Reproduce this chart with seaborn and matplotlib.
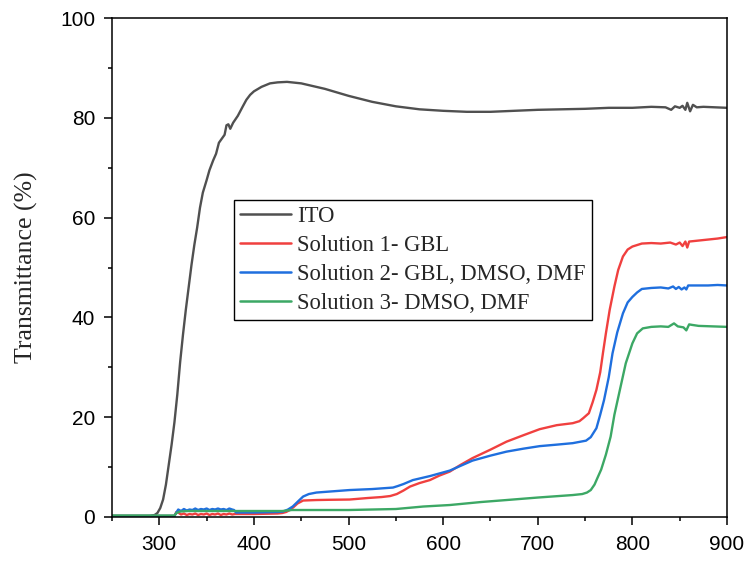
import numpy as np
import pandas as pd
import matplotlib
matplotlib.use("Agg")
import matplotlib.pyplot as plt
import seaborn as sns
from matplotlib.ticker import MultipleLocator

# Transmittance spectra: (wavelength nm, transmittance %)
ito_pts = [(250, 0.2), (290, 0.2), (295, 0.4), (298, 0.8), (301, 1.8), (304, 3.5),
           (307, 6.5), (310, 10.5), (313, 14.5), (316, 19.0), (319, 24.5), (322, 31.0),
           (325, 36.5), (328, 41.5), (331, 46.0), (334, 50.5), (337, 54.5), (340, 58.0),
           (343, 62.0), (346, 65.0), (350, 67.5), (353, 69.5), (357, 71.5), (360, 72.8),
           (363, 75.0), (366, 75.8), (369, 76.6), (371, 78.5), (373, 78.7), (375, 77.8),
           (378, 79.0), (383, 80.4), (388, 82.2), (392, 83.6), (396, 84.6), (400, 85.3),
           (408, 86.2), (417, 86.9), (425, 87.1), (435, 87.2), (450, 86.9), (475, 85.8),
           (500, 84.4), (525, 83.2), (550, 82.3), (575, 81.7), (600, 81.4), (625, 81.2),
           (650, 81.2), (675, 81.4), (700, 81.6), (725, 81.7), (750, 81.8), (775, 82.0),
           (800, 82.0), (820, 82.2), (835, 82.1), (841, 81.6), (845, 82.3), (850, 82.0),
           (853, 82.4), (856, 81.6), (858, 83.0), (861, 81.3), (864, 82.6), (868, 82.1),
           (875, 82.2), (900, 82.0)]

sol1_pts = [(250, 0.2), (316, 0.2), (318, 1.0), (320, 0.9), (323, 0.5), (326, 0.7),
            (329, 0.4), (332, 0.6), (335, 0.5), (338, 0.7), (341, 0.4), (344, 0.6),
            (347, 0.5), (350, 0.7), (353, 0.4), (356, 0.6), (359, 0.5), (362, 0.7),
            (365, 0.4), (368, 0.6), (371, 0.5), (374, 0.7), (377, 0.5), (380, 0.6),
            (400, 0.6), (425, 0.7), (430, 0.8), (434, 1.0), (438, 1.4), (442, 2.0),
            (446, 2.7), (452, 3.3), (466, 3.4), (480, 3.45), (501, 3.5), (520, 3.8),
            (535, 4.0), (544, 4.2), (551, 4.6), (558, 5.3), (565, 6.1), (575, 6.8),
            (586, 7.4), (596, 8.3), (607, 9.1), (618, 10.4), (631, 11.8), (650, 13.5),
            (667, 15.1), (685, 16.4), (702, 17.6), (720, 18.4), (737, 18.8), (744, 19.2),
            (748, 19.8), (754, 20.8), (758, 23.0), (762, 25.5), (766, 29.0), (769, 33.0),
            (772, 36.8), (776, 41.5), (781, 46.2), (785, 49.5), (790, 52.2), (795, 53.6),
            (800, 54.2), (810, 54.8), (820, 54.9), (830, 54.8), (840, 55.0), (846, 54.6),
            (850, 55.0), (853, 54.3), (856, 55.2), (858, 54.0), (860, 55.2), (870, 55.4),
            (880, 55.6), (890, 55.8), (900, 56.1)]

sol2_pts = [(250, 0.2), (316, 0.2), (318, 0.9), (320, 1.5), (323, 1.2), (326, 1.6),
            (329, 1.3), (332, 1.5), (335, 1.4), (338, 1.7), (341, 1.4), (344, 1.6),
            (347, 1.5), (350, 1.7), (353, 1.4), (356, 1.6), (359, 1.5), (362, 1.7),
            (365, 1.5), (368, 1.6), (371, 1.4), (374, 1.7), (377, 1.5), (379, 1.4),
            (381, 0.9), (400, 0.9), (425, 1.0), (431, 1.1), (436, 1.5), (441, 2.1),
            (447, 3.2), (452, 4.1), (458, 4.6), (466, 4.9), (480, 5.1), (501, 5.4),
            (525, 5.6), (547, 5.9), (552, 6.2), (558, 6.6), (568, 7.4), (586, 8.2),
            (607, 9.3), (631, 11.3), (650, 12.3), (667, 13.1), (685, 13.7), (702, 14.2),
            (720, 14.5), (737, 14.8), (751, 15.3), (756, 16.0), (762, 17.8), (766, 20.5),
            (770, 23.4), (775, 28.0), (779, 32.8), (784, 37.0), (790, 40.8), (795, 43.0),
            (800, 44.1), (805, 45.0), (810, 45.7), (820, 45.9), (830, 46.0), (838, 45.8),
            (843, 46.2), (846, 45.7), (849, 46.1), (852, 45.6), (855, 46.0), (857, 45.6),
            (859, 46.4), (862, 46.4), (870, 46.4), (880, 46.4), (890, 46.5), (900, 46.4)]

sol3_pts = [(250, 0.3), (316, 0.3), (318, 0.8), (322, 1.1), (330, 1.2), (380, 1.2),
            (430, 1.2), (440, 1.4), (500, 1.4), (550, 1.6), (579, 2.1), (607, 2.4),
            (640, 3.0), (667, 3.4), (700, 3.9), (737, 4.4), (747, 4.6), (752, 4.9),
            (756, 5.4), (760, 6.5), (763, 7.8), (767, 9.5), (772, 12.5), (777, 16.1),
            (781, 20.5), (786, 24.8), (793, 30.8), (800, 34.8), (805, 36.8), (811, 37.8),
            (820, 38.1), (830, 38.2), (838, 38.1), (844, 38.8), (848, 38.2), (854, 38.0),
            (857, 37.4), (860, 38.6), (863, 38.5), (870, 38.3), (900, 38.1)]

series_names = ["ITO", "Solution 1- GBL", "Solution 2- GBL, DMSO, DMF",
                "Solution 3- DMSO, DMF"]
series_pts = [ito_pts, sol1_pts, sol2_pts, sol3_pts]
series_colors = ["#505050", "#F0403F", "#1F6FDE", "#3CA865"]

x_ticks = [300, 400, 500, 600, 700, 800, 900]
y_ticks = [0, 20, 40, 60, 80, 100]

frames = []
for name, pts in zip(series_names, series_pts):
    arr = np.array(pts, dtype=float)
    frames.append(pd.DataFrame({"wavelength": arr[:, 0],
                                "transmittance": arr[:, 1],
                                "sample": name}))
df = pd.concat(frames, ignore_index=True)

sns.set_style("ticks")
plt.rcParams["font.family"] = ["Liberation Sans", "DejaVu Sans"]

fig = plt.figure(figsize=(7.49, 5.61), dpi=100)
ax = fig.add_axes([112 / 749, 1 - 517 / 561, (727 - 112) / 749, (517 - 18) / 561])

sns.lineplot(data=df, x="wavelength", y="transmittance", hue="sample",
             hue_order=series_names, palette=dict(zip(series_names, series_colors)),
             estimator=None, linewidth=1.7, ax=ax)

ax.set_xlim(250, 900)
ax.set_ylim(0, 100)
ax.set_xticks(x_ticks)
ax.set_yticks(y_ticks)
ax.xaxis.set_minor_locator(MultipleLocator(50))
ax.yaxis.set_minor_locator(MultipleLocator(10))
ax.tick_params(axis="both", which="major", direction="out", length=6, width=1.1,
               labelsize=15, color="black", labelcolor="black")
ax.tick_params(axis="both", which="minor", direction="out", length=3, width=1.1,
               color="black")
ax.tick_params(axis="x", which="major", pad=7)
ax.tick_params(axis="y", which="major", pad=6)
ax.tick_params(top=False, right=False, which="both")
for side in ["left", "right", "top", "bottom"]:
    ax.spines[side].set_visible(True)
    ax.spines[side].set_linewidth(1.1)
    ax.spines[side].set_color("black")

ax.set_xlabel("")
ax.set_ylabel("Transmittance (%)", family=["Liberation Serif", "DejaVu Serif"],
              fontsize=18.5, labelpad=16)

leg = ax.legend(loc="upper left", bbox_to_anchor=(234 / 749, 1 - 200 / 561),
                bbox_transform=fig.transFigure, borderaxespad=0,
                prop={"family": ["Liberation Serif", "DejaVu Serif"], "size": 16.3},
                frameon=True, fancybox=False, shadow=False, framealpha=1,
                edgecolor="black", handlelength=2.25, handletextpad=0.3,
                labelspacing=0.36, borderpad=0.25)
leg.get_frame().set_linewidth(1.0)
for line in leg.get_lines():
    line.set_linewidth(1.8)

fig.savefig("out.png", dpi=100)
